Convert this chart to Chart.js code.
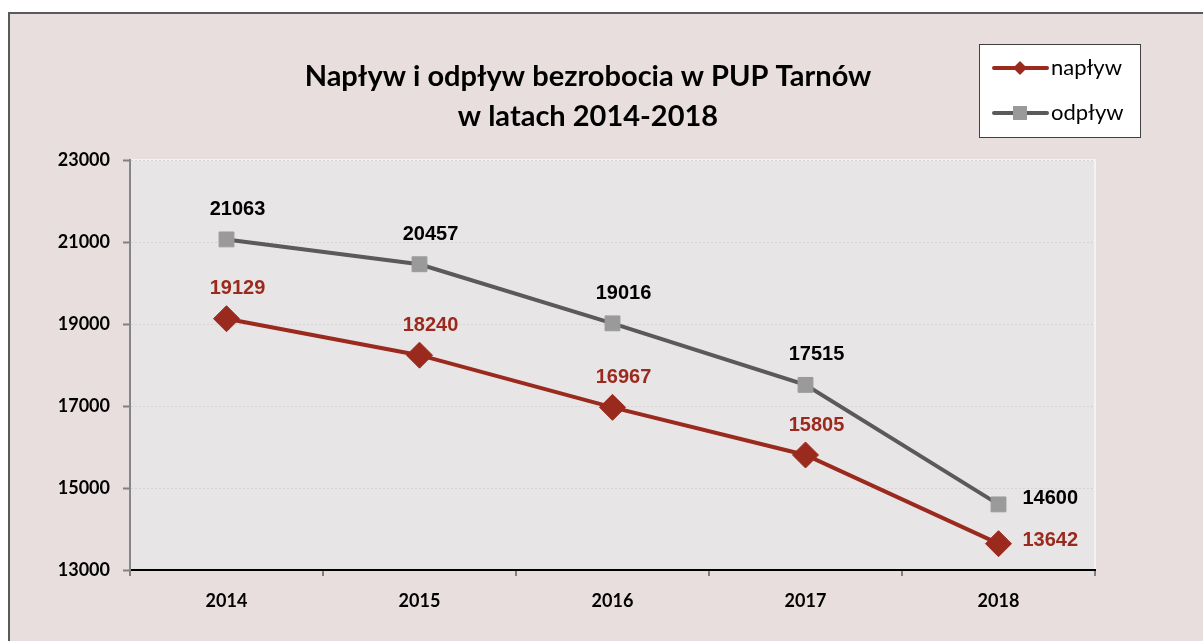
<!DOCTYPE html>
<html>
<head>
<meta charset="utf-8">
<script src="https://cdn.jsdelivr.net/npm/chart.js@4/dist/chart.umd.min.js"></script>
<style>
    body { margin: 0; background: #ffffff; overflow: hidden; }
    #frame {
        position: absolute; left: 8px; top: 12px; width: 1300px; height: 700px;
        background: #e7dedd; border-left: 2px solid #5a5a5a; border-top: 2px solid #5a5a5a;
    }
    #wrap { position: absolute; left: 0; top: 0; width: 1203px; height: 641px; }
</style>
</head>
<body>
<div id="frame"></div>
<div id="wrap"><canvas id="lineChart" width="1203" height="641"></canvas></div>
<script>
const years = ['2014', '2015', '2016', '2017', '2018'];
const naplyw = [19129, 18240, 16967, 15805, 13642];
const odplyw = [21063, 20457, 19016, 17515, 14600];
const seriesNames = ['napływ', 'odpływ'];
const titleLines = ['Napływ i odpływ bezrobocia w PUP Tarnów', 'w latach 2014-2018'];

const RED = '#9b2a1e';
const GRAY_LINE = '#5a5a5a';
const GRAY_MARK = '#9a9a9a';

/* plot area background */
const plotBg = {
    id: 'plotBg',
    beforeDraw: function (chart) {
        const a = chart.chartArea;
        const ctx = chart.ctx;
        ctx.save();
        ctx.fillStyle = '#e8e5e6';
        ctx.fillRect(a.left, a.top, a.right - a.left, a.bottom - a.top);
        ctx.strokeStyle = '#f4f2f2';
        ctx.lineWidth = 2;
        ctx.beginPath();
        ctx.moveTo(a.left, a.top);
        ctx.lineTo(a.right, a.top);
        ctx.lineTo(a.right, a.bottom);
        ctx.stroke();
        ctx.restore();
    }
};

/* value labels */
const valueLabels = {
    id: 'valueLabels',
    afterDatasetsDraw: function (chart) {
        const ctx = chart.ctx;
        ctx.save();
        ctx.font = 'bold 20px "Liberation Sans", Arial, sans-serif';
        ctx.textBaseline = 'middle';
        chart.data.datasets.forEach(function (ds, di) {
            const meta = chart.getDatasetMeta(di);
            ctx.fillStyle = di === 0 ? RED : '#000000';
            meta.data.forEach(function (pt, i) {
                const last = i === meta.data.length - 1;
                if (last) {
                    ctx.textAlign = 'left';
                    ctx.fillText(ds.data[i], pt.x + 24, pt.y - (di === 0 ? 3 : 6));
                } else {
                    ctx.textAlign = 'center';
                    ctx.fillText(ds.data[i], pt.x + 11, pt.y - 30);
                }
            });
        });
        ctx.restore();
    }
};

/* title + legend box */
const titleLegend = {
    id: 'titleLegend',
    afterDraw: function (chart) {
        const ctx = chart.ctx;
        ctx.save();
        ctx.fillStyle = '#000000';
        ctx.textAlign = 'center';
        ctx.textBaseline = 'alphabetic';
        ctx.font = 'bold 29px Lato, "Open Sans", sans-serif';
        ctx.fillText(titleLines[0], 588, 86);
        ctx.fillText(titleLines[1], 588, 126);

        // legend
        ctx.fillStyle = '#ffffff';
        ctx.fillRect(979, 44, 161, 93);
        ctx.strokeStyle = '#404040';
        ctx.lineWidth = 1;
        ctx.strokeRect(979.5, 44.5, 161, 93);

        const rows = [68, 113];
        chart.data.datasets.forEach(function (ds, di) {
            const y = rows[di];
            ctx.strokeStyle = ds.borderColor;
            ctx.lineWidth = 4;
            ctx.lineCap = 'round';
            ctx.beginPath();
            ctx.moveTo(994, y);
            ctx.lineTo(1047, y);
            ctx.stroke();
            ctx.fillStyle = ds.pointBackgroundColor;
            if (di === 0) {
                ctx.beginPath();
                ctx.moveTo(1020, y - 7);
                ctx.lineTo(1027, y);
                ctx.lineTo(1020, y + 7);
                ctx.lineTo(1013, y);
                ctx.closePath();
                ctx.fill();
            } else {
                ctx.fillRect(1013, y - 7, 14, 14);
            }
            ctx.fillStyle = '#000000';
            ctx.textAlign = 'left';
            ctx.textBaseline = 'middle';
            ctx.font = '22px Lato, "Open Sans", sans-serif';
            ctx.fillText(ds.label, 1051, y);
        });
        ctx.restore();
    }
};

const ctx = document.getElementById('lineChart').getContext('2d');
const myChart = new Chart(ctx, {
    type: 'line',
    data: {
        labels: years,
        datasets: [{
            label: seriesNames[0],
            data: naplyw,
            borderColor: RED,
            backgroundColor: RED,
            pointBackgroundColor: RED,
            pointBorderColor: RED,
            borderWidth: 4,
            pointStyle: 'rectRot',
            pointRadius: 13,
            pointBorderWidth: 1,
            tension: 0
        }, {
            label: seriesNames[1],
            data: odplyw,
            borderColor: GRAY_LINE,
            backgroundColor: GRAY_MARK,
            pointBackgroundColor: GRAY_MARK,
            pointBorderColor: GRAY_MARK,
            borderWidth: 4,
            pointStyle: 'rect',
            pointRadius: 10.5,
            pointBorderWidth: 1,
            tension: 0
        }]
    },
    options: {
        responsive: false,
        animation: false,
        events: [],
        layout: {
            padding: { left: 0, right: 108, top: 160, bottom: 0 }
        },
        plugins: {
            legend: { display: false },
            title: { display: false },
            tooltip: { enabled: false }
        },
        scales: {
            x: {
                offset: true,
                afterFit: function (scale) { scale.height = 71; },
                grid: {
                    offset: true,
                    drawOnChartArea: false,
                    drawTicks: true,
                    tickLength: 6,
                    color: '#808080',
                    lineWidth: 2
                },
                border: { color: '#000000', width: 2 },
                ticks: {
                    color: '#000000',
                    padding: 14,
                    font: { family: 'Lato, "Open Sans", sans-serif', size: 18, weight: 'bold' }
                }
            },
            y: {
                min: 13000,
                max: 23000,
                afterFit: function (scale) { scale.width = 130; },
                grid: {
                    color: '#d6d3d4',
                    lineWidth: 1,
                    tickLength: 7,
                    tickColor: '#808080',
                    tickWidth: 2
                },
                border: { color: '#868686', width: 2, dash: [2, 2] },
                ticks: {
                    stepSize: 2000,
                    color: '#000000',
                    padding: 13,
                    callback: function (value) { return String(value); },
                    font: { family: 'Lato, "Open Sans", sans-serif', size: 18, weight: 'bold' }
                }
            }
        }
    },
    plugins: [plotBg, valueLabels, titleLegend]
});
</script>
</body>
</html>
